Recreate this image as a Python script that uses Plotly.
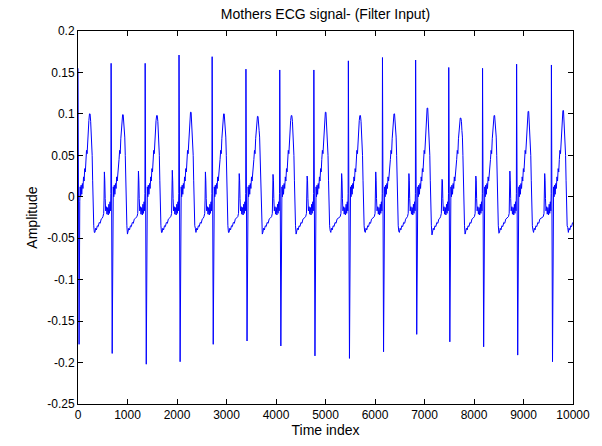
import plotly.graph_objects as go

# ---- data ----
# R-peak sample indices of each maternal beat
r_index = [0, 669, 1357, 2041, 2710, 3393, 4076, 4765, 5462, 6151, 6821, 7490, 8173, 8861, 9564]
# R-peak amplitudes
r_amp = [0.155, 0.161, 0.161, 0.171, 0.169, 0.154, 0.153, 0.153, 0.164, 0.168, 0.165, 0.156, 0.155, 0.160, 0.159]
# S-trough amplitudes
s_amp = [-0.178, -0.189, -0.202, -0.199, -0.178, -0.174, -0.180, -0.192, -0.195, -0.187, -0.166, -0.175, -0.181, -0.191, -0.199]
# T-wave peak amplitudes
t_amp = [0.100, 0.099, 0.098, 0.102, 0.100, 0.097, 0.098, 0.102, 0.098, 0.100, 0.107, 0.095, 0.098, 0.103, 0.104]
# minimum after the T wave
u_amp = [-0.043, -0.045, -0.043, -0.038, -0.043, -0.045, -0.045, -0.041, -0.042, -0.042, -0.046, -0.045, -0.044, -0.040, -0.037]
# P-wave bump amplitudes (before each R)
p_amp = [0.0, 0.030, 0.031, 0.032, 0.030, 0.028, 0.027, 0.025, 0.028, 0.030, 0.028, 0.021, 0.025, 0.031, 0.028]

# beat shape read from one cycle: offsets (samples from R) and levels;
# 'P','R','S','T','U' are taken from the per-beat lists above
pre_offsets = [-165, -150, -143, -136, -128, -120, -110, -96, -84, -70, -58, -45, -34, -22, -12, -5]
pre_levels = [-0.024, -0.020, -0.004, 'P', 0.020, -0.002, -0.017, -0.012, -0.021, -0.013, -0.022, -0.009, -0.020, -0.006, -0.017, 0.004]
qrs_offsets = [0, 22]
qrs_levels = ['R', 'S']
post_offsets = [36, 44, 54, 64, 76, 88, 100, 112, 124, 136, 148, 160, 172, 184, 196, 208, 220, 232, 244,
                256, 266, 276, 286, 296, 306, 318, 330, 342, 356, 372, 390, 408, 428, 448, 468, 488]
post_levels = [-0.006, 0.012, 0.000, 0.014, 0.003, 0.016, 0.010, 0.024, 0.019, 0.034, 0.030, 0.045, 0.056, 0.052,
               0.070, 0.082, 0.092, 'T', 'T', 0.091, 0.080, 0.072, 0.050, 0.020, -0.020, -0.035, 'U', -0.043,
               -0.038, -0.040, -0.035, -0.036, -0.031, -0.032, -0.027, -0.026]

n_samples = 10000

x_vals, y_vals = [], []
offsets = pre_offsets + qrs_offsets + post_offsets
levels = pre_levels + qrs_levels + post_levels
for i, r in enumerate(r_index):
    lookup = {'P': p_amp[i], 'R': r_amp[i], 'S': s_amp[i], 'T': t_amp[i], 'U': u_amp[i]}
    for off, lev in zip(offsets, levels):
        xi = r + off
        if xi < 0 or xi > n_samples:
            continue
        x_vals.append(xi)
        y_vals.append(lookup[lev] if isinstance(lev, str) else lev)

y_ticks = [0.2, 0.15, 0.1, 0.05, 0, -0.05, -0.1, -0.15, -0.2, -0.25]
y_tick_text = ['0.2', '0.15', '0.1', '0.05', '0', '-0.05', '-0.1', '-0.15', '-0.2', '-0.25']
x_ticks = [0, 1000, 2000, 3000, 4000, 5000, 6000, 7000, 8000, 9000, 10000]
x_tick_text = ['0', '1000', '2000', '3000', '4000', '5000', '6000', '7000', '8000', '9000', '10000']

fig = go.Figure()
fig.add_trace(go.Scatter(x=x_vals, y=y_vals, mode='lines',
                         line=dict(color='#0000FF', width=1), showlegend=False))

fam = 'Liberation Sans, Arial, sans-serif'
fig.update_layout(
    width=602, height=446,
    margin=dict(l=78, r=26, t=31, b=41),
    paper_bgcolor='white', plot_bgcolor='white',
    font=dict(family=fam, size=12, color='black'),
    title=dict(text='Mothers ECG signal- (Filter Input)', x=0.5, xref='paper',
               y=1 - 14 / 446, yref='container', yanchor='middle', xanchor='center',
               font=dict(family=fam, size=14, color='black')),
    xaxis=dict(range=[0, 10000], tickvals=x_ticks, ticktext=x_tick_text, ticks='inside', ticklen=5,
               tickcolor='black', tickfont=dict(family=fam, size=12, color='black'),
               showline=True, linecolor='black', linewidth=1, mirror='ticks', showgrid=False,
               zeroline=False,
               title=dict(text='Time index', standoff=2, font=dict(family=fam, size=14, color='black'))),
    yaxis=dict(range=[-0.25, 0.2], tickvals=y_ticks, ticktext=y_tick_text, ticks='inside',
               ticklen=5, tickcolor='black', tickfont=dict(family=fam, size=12, color='black'),
               showline=True, linecolor='black', linewidth=1,
               mirror='ticks', showgrid=False, zeroline=False,
               title=dict(text='Amplitude', standoff=6, font=dict(family=fam, size=14, color='black'))),
)

fig.write_html('out.html')
